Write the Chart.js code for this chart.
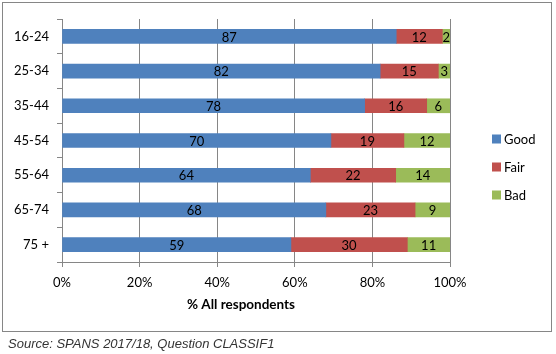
<!DOCTYPE html>
<html><head><meta charset="utf-8">
<script src="https://cdn.jsdelivr.net/npm/chart.js@4.4.1/dist/chart.umd.min.js"></script>
<style>
html,body{margin:0;padding:0;background:#fff;}
#wrap{position:relative;width:556px;height:354px;overflow:hidden;background:#fff;}
#frame{position:absolute;left:2px;top:2px;width:550px;height:330px;border:1px solid #868686;box-sizing:border-box;}
#c{position:absolute;left:0;top:0;}
#src{position:absolute;left:8px;top:336px;font:italic 13px "Liberation Sans",Arial,sans-serif;color:#333;white-space:nowrap;line-height:15px;}
</style></head><body>
<div id="wrap"><div id="frame"></div><canvas id="c" width="556" height="354"></canvas><div id="src">Source: SPANS 2017/18, Question CLASSIF1</div></div>
<script>
const categories = ['16-24','25-34','35-44','45-54','55-64','65-74','75 +'];
const seriesNames = ['Good','Fair','Bad'];
const good = [87,82,78,70,64,68,59];
const fair = [12,15,16,19,22,23,30];
const bad  = [2,3,6,12,14,9,11];
const xTickLabels = ['0%','20%','40%','60%','80%','100%'];
const xAxisTitle = '% All respondents';
const colors = ['#4F81BD','#C0504D','#9BBB59'];

const raw = [good, fair, bad];
const totals = categories.map((_, i) => good[i] + fair[i] + bad[i]);
const FONT = 'Lato, "Open Sans", sans-serif';

const datasets = raw.map((arr, k) => ({
  label: seriesNames[k],
  data: arr.map((v, i) => v / totals[i] * 100),
  rawValues: arr,
  backgroundColor: colors[k],
  borderWidth: 0,
  barThickness: 14,
  stack: 's'
}));

const valueLabels = {
  id: 'valueLabels',
  afterDatasetsDraw(chart) {
    const ctx = chart.ctx;
    ctx.save();
    ctx.font = '13px ' + FONT;
    ctx.fillStyle = '#000';
    ctx.textAlign = 'center';
    ctx.textBaseline = 'middle';
    chart.data.datasets.forEach((ds, di) => {
      const meta = chart.getDatasetMeta(di);
      meta.data.forEach((bar, i) => {
        const p = bar.getProps(['x', 'y', 'base'], true);
        ctx.fillText(String(ds.rawValues[i]), (p.x + p.base) / 2, p.y + 1);
      });
    });
    ctx.restore();
  }
};

const sideLegendAndTitle = {
  id: 'sideLegendAndTitle',
  afterDraw(chart) {
    const ctx = chart.ctx;
    ctx.save();
    ctx.font = '13px ' + FONT;
    ctx.textBaseline = 'middle';
    ctx.textAlign = 'left';
    const startY = 139, gap = 28;
    chart.data.datasets.forEach((ds, k) => {
      const cy = startY + k * gap;
      ctx.fillStyle = ds.backgroundColor;
      ctx.fillRect(492, cy - 4.5, 9, 9);
      ctx.fillStyle = '#000';
      ctx.fillText(ds.label, 504, cy + 1);
    });
    // axis title (offset left of the plot centre, as in the original)
    ctx.font = 'bold 13.5px ' + FONT;
    ctx.textAlign = 'center';
    ctx.fillText(xAxisTitle, chart.chartArea.left + 179, 305);
    ctx.restore();
  }
};

new Chart(document.getElementById('c'), {
  type: 'bar',
  data: { labels: categories, datasets },
  options: {
    indexAxis: 'y',
    responsive: false,
    animation: false,
    events: [],
    layout: { padding: { left: 0, top: 19, right: 106, bottom: 36 } },
    plugins: { legend: { display: false }, tooltip: { enabled: false } },
    scales: {
      x: {
        stacked: true, min: 0, max: 100,
        afterFit(s) { s.height = 56; },
        ticks: {
          stepSize: 20, padding: 8, color: '#000',
          font: { family: FONT, size: 13 },
          callback: (v, i) => xTickLabels[i]
        },
        grid: { color: '#868686', lineWidth: 1, tickLength: 5, drawTicks: true },
        border: { display: true, color: '#868686' },
        title: { display: false }
      },
      y: {
        stacked: true,
        afterFit(s) { s.width = 62; },
        ticks: { color: '#000', padding: 8, font: { family: FONT, size: 13 } },
        grid: { drawOnChartArea: false, color: '#868686', tickLength: 5, offset: true },
        border: { display: true, color: '#868686' }
      }
    }
  },
  plugins: [valueLabels, sideLegendAndTitle]
});
</script>
</body></html>
